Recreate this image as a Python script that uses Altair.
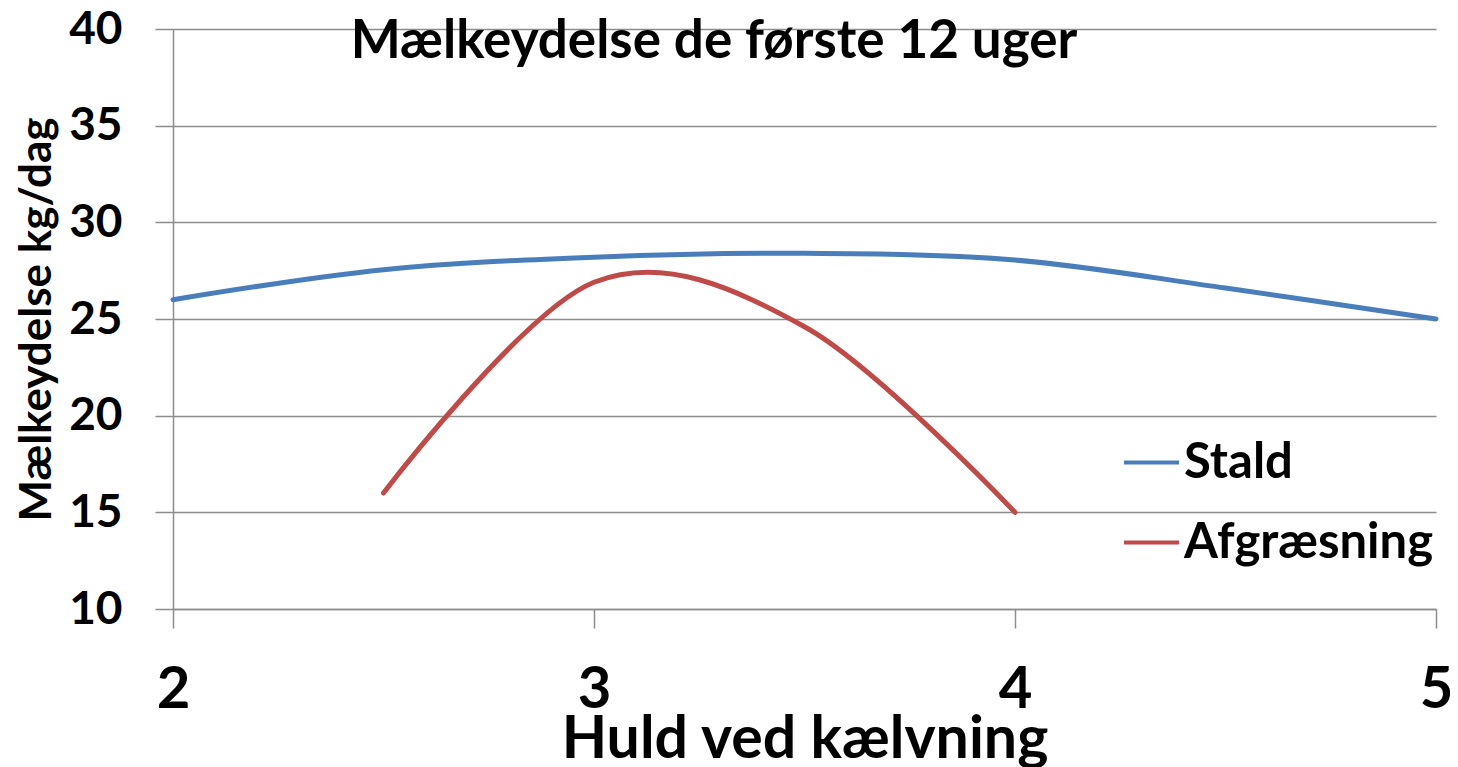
import altair as alt
import pandas as pd

# Data
huld_stald = [2.0, 2.5, 3.0, 3.5, 4.0, 4.5, 5.0]
maelk_stald = [26.0, 27.55, 28.2, 28.4, 28.05, 26.6, 25.0]

huld_afgr = [2.5, 3.0, 3.5, 4.0]
maelk_afgr = [16.0, 26.9, 24.6, 15.0]

series_names = ["Stald", "Afgræsning"]
series_colors = ["#4A7EBB", "#BE4B48"]

x_ticks = [2, 3, 4, 5]
y_ticks = [10, 15, 20, 25, 30, 35, 40]

chart_title = "Mælkeydelse de første 12 uger"
title_pos_x = [3.285]
title_pos_y = [38.5]

rows = []
for i, (x, y) in enumerate(zip(huld_stald, maelk_stald)):
    rows.append({"serie": "Stald", "huld": x, "maelk": y, "ord": i})
for i, (x, y) in enumerate(zip(huld_afgr, maelk_afgr)):
    rows.append({"serie": "Afgræsning", "huld": x, "maelk": y, "ord": i})
df = pd.DataFrame(rows)

title_df = pd.DataFrame({"huld": title_pos_x, "maelk": title_pos_y, "txt": [chart_title]})

FONT = "Lato"
GRAY = "#8C8C8C"

x_enc = alt.X(
    "huld:Q",
    scale=alt.Scale(domain=[2, 5], nice=False, zero=False),
    axis=alt.Axis(
        values=x_ticks,
        format="d",
        title="Huld ved kælvning",
        grid=False,
        domainColor=GRAY,
        domainWidth=1.5,
        tickColor=GRAY,
        tickWidth=1.5,
        tickSize=19,
        labelFont=FONT,
        labelFontSize=58,
        labelFontWeight="bold",
        labelColor="black",
        labelPadding=33,
        labelFlush=False,
        titleFont=FONT,
        titleFontSize=59,
        titleFontWeight="bold",
        titleColor="black",
        titleBaseline="alphabetic",
        titleY=148,
    ),
)

y_enc = alt.Y(
    "maelk:Q",
    scale=alt.Scale(domain=[10, 40], nice=False, zero=False),
    axis=alt.Axis(
        values=y_ticks,
        format="d",
        title="Mælkeydelse kg/dag",
        grid=True,
        gridColor=GRAY,
        gridWidth=1.5,
        domainColor=GRAY,
        domainWidth=1.5,
        tickColor=GRAY,
        tickWidth=1.5,
        tickSize=18,
        labelFont=FONT,
        labelFontSize=46,
        labelFontWeight="bold",
        labelColor="black",
        labelPadding=33,
        labelFlush=False,
        titleFont=FONT,
        titleFontSize=44,
        titleFontWeight="bold",
        titleColor="black",
        titleBaseline="alphabetic",
        titleX=-123,
    ),
)

lines = (
    alt.Chart(df)
    .mark_line(interpolate="cardinal", strokeWidth=5, strokeCap="round", strokeJoin="round")
    .encode(
        x=x_enc,
        y=y_enc,
        color=alt.Color(
            "serie:N",
            scale=alt.Scale(domain=series_names, range=series_colors),
            sort=series_names,
            legend=alt.Legend(
                title=None,
                orient="none",
                legendX=949,
                legendY=404,
                direction="vertical",
                symbolType="stroke",
                symbolSize=3025,
                symbolStrokeWidth=4,
                labelFont=FONT,
                labelFontSize=49,
                labelFontWeight="bold",
                labelColor="black",
                labelOffset=3,
                labelLimit=0,
                rowPadding=25,
                padding=0,
            ),
        ),
        order="ord:Q",
    )
)

title_text = (
    alt.Chart(title_df)
    .mark_text(font=FONT, fontSize=53, fontWeight="bold", color="black",
               align="center", baseline="alphabetic")
    .encode(x="huld:Q", y="maelk:Q", text="txt:N")
)

chart = (
    alt.layer(lines, title_text)
    .properties(
        width=1263,
        height=580,
        autosize=alt.AutoSizeParams(type="none"),
        padding={"left": 165, "top": 21, "right": 14, "bottom": 158},
    )
    .configure_view(stroke=None)
)

chart.save("out.html", embed_options={"renderer": "svg", "actions": False})
